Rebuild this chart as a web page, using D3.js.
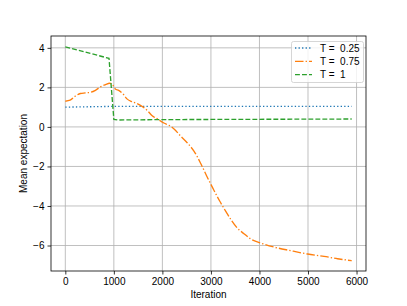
<!DOCTYPE html>
<html><head><meta charset="utf-8">
<script src="https://cdn.jsdelivr.net/npm/d3@7"></script>
<style>
html,body{margin:0;padding:0;background:#fff;}
text{font-family:"Liberation Sans",Arial,sans-serif;}
</style></head>
<body><svg id="c" width="407" height="306"></svg>
<script>
const seriesNames = ["T =  0.25", "T =  0.75", "T =  1"];
const blueX = [0, 500, 1000, 1500, 3000, 5900];
const blueY = [1.00, 1.02, 1.04, 1.04, 1.04, 1.04];
const orangeX = [0, 100, 200, 310, 410, 520, 620, 720, 830, 910, 960, 1030, 1100, 1200, 1270, 1380, 1480, 1580, 1690, 1790, 1900, 1960, 2030, 2170, 2240, 2370, 2510, 2650, 2790, 2920, 3050, 3180, 3300, 3410, 3540, 3680, 3820, 4020, 4300, 4640, 4990, 5330, 5610, 5900];
const orangeY = [1.30, 1.35, 1.55, 1.69, 1.72, 1.75, 1.85, 2.02, 2.14, 2.21, 2.18, 1.92, 1.85, 1.64, 1.42, 1.27, 1.18, 1.04, 0.83, 0.56, 0.40, 0.30, 0.20, 0.03, -0.10, -0.45, -0.80, -1.22, -1.85, -2.52, -3.15, -3.75, -4.25, -4.68, -5.11, -5.40, -5.67, -5.87, -6.08, -6.26, -6.43, -6.55, -6.67, -6.77];
const greenX = [0, 900, 1000, 1100, 2000, 5900];
const greenY = [4.05, 3.47, 0.38, 0.35, 0.37, 0.40];
const xTicks = [0, 1000, 2000, 3000, 4000, 5000, 6000];
const yTicks = [-6, -4, -2, 0, 2, 4];
const colors = ["#1f77b4", "#ff7f0e", "#2ca02c"];
const dashes = ["1.33,2.2", "8.5,2.1,1.33,2.1", "4.9,2.1"];

const L = 51, R = 366, T = 36, B = 271;
const x = d3.scaleLinear().domain([-295, 6195]).range([L, R]);
const y = d3.scaleLinear().domain([-7.29, 4.6]).range([B, T]);
const svg = d3.select("#c");

// grid
svg.append("g").selectAll("line").data(xTicks).join("line")
  .attr("x1", d => x(d)).attr("x2", d => x(d)).attr("y1", T).attr("y2", B)
  .attr("stroke", "#b0b0b0").attr("stroke-width", 0.8);
svg.append("g").selectAll("line").data(yTicks).join("line")
  .attr("y1", d => y(d)).attr("y2", d => y(d)).attr("x1", L).attr("x2", R)
  .attr("stroke", "#b0b0b0").attr("stroke-width", 0.8);

// series
const data = [[blueX, blueY], [orangeX, orangeY], [greenX, greenY]];
data.forEach((s, i) => {
  const pts = s[0].map((v, j) => [v, s[1][j]]);
  const line = d3.line().x(d => x(d[0])).y(d => y(d[1]))
    .curve(i === 1 ? d3.curveMonotoneX : d3.curveLinear);
  svg.append("path").datum(pts).attr("d", line)
    .attr("fill", "none").attr("stroke", colors[i]).attr("stroke-width", 1.33)
    .attr("stroke-dasharray", dashes[i]);
});

// frame
svg.append("rect").attr("x", L).attr("y", T).attr("width", R - L).attr("height", B - T)
  .attr("fill", "none").attr("stroke", "#000").attr("stroke-width", 0.8);

// axes
const xa = svg.append("g").attr("transform", `translate(0,${B})`)
  .call(d3.axisBottom(x).tickValues(xTicks).tickSize(3.5).tickPadding(3).tickFormat(d3.format("d")));
const ya = svg.append("g").attr("transform", `translate(${L},0)`)
  .call(d3.axisLeft(y).tickValues(yTicks).tickSize(3.5).tickPadding(3).tickFormat(d => d < 0 ? "\u2212" + Math.abs(d) : d));
[xa, ya].forEach(a => {
  a.select(".domain").remove();
  a.selectAll("line").attr("stroke", "#000").attr("stroke-width", 0.8);
  a.selectAll("text").attr("font-size", 10).attr("fill", "#000").style("font-family", "'Liberation Sans',Arial,sans-serif");
});

svg.append("text").attr("x", (L + R) / 2).attr("y", 298).attr("text-anchor", "middle")
  .attr("font-size", 10).text("Iteration");
svg.append("text").attr("transform", `translate(27,${(T + B) / 2}) rotate(-90)`)
  .attr("text-anchor", "middle").attr("font-size", 10).text("Mean expectation");

// legend
const lg = svg.append("g");
lg.append("rect").attr("x", 291.5).attr("y", 41.5).attr("width", 72).attr("height", 41).attr("rx", 2)
  .attr("fill", "#fff").attr("fill-opacity", 0.8).attr("stroke", "#cccccc").attr("stroke-width", 0.8);
seriesNames.forEach((n, i) => {
  const yy = 48 + i * 13.3;
  lg.append("line").attr("x1", 295).attr("x2", 312).attr("y1", yy).attr("y2", yy)
    .attr("stroke", colors[i]).attr("stroke-width", 1.33).attr("stroke-dasharray", dashes[i]);
  lg.append("text").attr("x", 320).attr("y", yy).attr("dy", "0.35em").attr("font-size", 10)
    .style("white-space", "pre").text(n);
});
</script></body></html>
